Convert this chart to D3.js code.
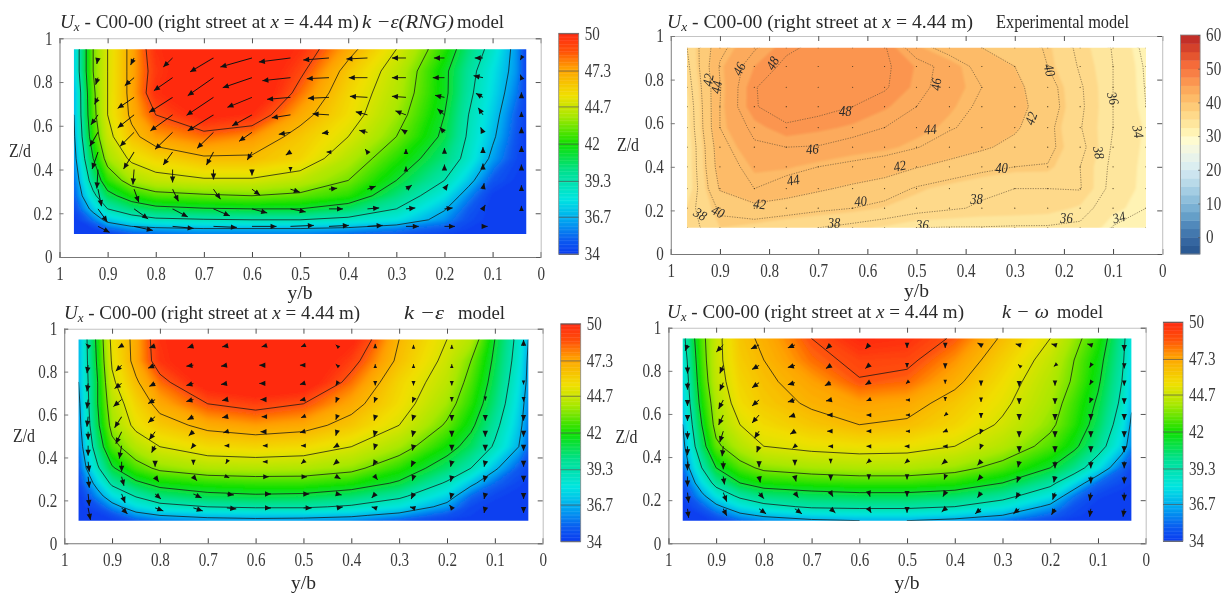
<!DOCTYPE html>
<html>
<head>
<meta charset="utf-8">
<script src="https://d3js.org/d3.v7.min.js"></script>
<style>
  html, body { margin: 0; padding: 0; background: #fff; }
  text { font-family: "Liberation Serif", serif; fill: #2a2a2a; }
  .tick text { font-size: 18px; fill: #3a3a3a; }
</style>
</head>
<body>
<script>
// axis ticks
var xTicks = [1, 0.9, 0.8, 0.7, 0.6, 0.5, 0.4, 0.3, 0.2, 0.1, 0];
var zTicks = [0, 0.2, 0.4, 0.6, 0.8, 1];

// colorbars
var jetTicks = [50, 47.3, 44.7, 42, 39.3, 36.7, 34];
var jetLevels = [34, 35, 36.5, 38, 40, 42, 44, 45.5, 47.5, 48.7, 50];
var jetColors = ['#0a3cf0', '#0a5af0', '#00a8f0', '#00e5e0', '#00e090', '#10e000', '#a8e800', '#f0e000', '#ffa000', '#ff5208', '#ff2a10'];
// the painted field runs about a unit warm of the contour lines
var fieldLevels = [34, 34.8, 35.8, 37, 38.7, 40.7, 42.7, 44.6, 46.8, 47.9, 49.2];
var contourLevels = [36, 38, 40, 42, 44, 46, 48];
var expTicks = [60, 50, 40, 30, 20, 10, 0];
var expBandEdges = [34.5, 37, 39.5, 42, 44.5, 47];
var expBands = ['#2b5a94', '#3566a0', '#4378ae', '#5189bb', '#659fc8', '#7ab0d3', '#8fbfdb', '#a4cde3', '#b9dae9', '#cce4ef',
  '#dbeef0', '#e8f3ea', '#f4f7e0', '#fefbd0', '#fff3b4', '#fee69d', '#fed98a', '#fdcb78', '#fdbb68', '#fcaa5c',
  '#fb9550', '#f87f45', '#f56b3a', '#e5552f', '#d4412b', '#c22f28'];

// field sample positions of the three simulations
var simYb = [0.97, 0.93, 0.9, 0.85, 0.8, 0.7, 0.6, 0.5, 0.4, 0.3, 0.2, 0.15, 0.1, 0.05, 0.03];
var simZ = [0.95, 0.85, 0.75, 0.65, 0.55, 0.45, 0.35, 0.28, 0.22, 0.17, 0.13, 0.105];

var rngField = [
  [36.5, 42, 44, 46.5, 49, 50.5, 50.5, 49, 46.5, 44, 41, 39, 37.5, 35.5, 34.3],
  [36.5, 42, 44, 46.5, 48.7, 50.5, 50.5, 48.3, 45.5, 43.3, 40.3, 38.5, 37, 35.5, 34.3],
  [36, 41.7, 44, 46.5, 49, 50.5, 50.5, 47.5, 45, 43, 40.3, 38.3, 36.8, 35.2, 34.3],
  [36, 41.5, 44, 46.3, 48, 49.5, 49, 46.5, 44.7, 42.6, 40, 38, 36.5, 34.8, 34.2],
  [35.8, 41, 43.5, 45.6, 46.8, 47.5, 47, 45.5, 44, 42, 39.7, 37.8, 36.2, 34.6, 34],
  [35.5, 40, 42.6, 44.3, 45, 45.8, 45.8, 45, 43, 41, 39, 37.5, 35.7, 34.4, 34],
  [35, 38.8, 41, 42.7, 43.4, 43.8, 43.8, 43.2, 42, 40, 38, 36.4, 34.7, 34.1, 34],
  [34.8, 37.6, 39.5, 40.8, 41.5, 41.8, 42, 41.7, 41, 39, 37, 35.4, 34.1, 34, 34],
  [34.4, 36.4, 38, 39, 39.6, 39.9, 40, 40, 39.3, 38, 36.1, 34.8, 34, 34, 34],
  [34, 35.2, 36.4, 37.2, 37.7, 37.9, 38, 38, 37.6, 37, 35.5, 34.5, 34, 34, 34],
  [34, 34.2, 35, 35.6, 35.8, 36, 36, 36, 35.8, 35.3, 34.7, 34.2, 34, 34, 34],
  [34, 34, 34.2, 34.8, 35, 35.3, 35.3, 35.3, 35, 34.8, 34.3, 34, 34, 34, 34]
];
var keField = [
  [36, 40.5, 44.5, 46.5, 49, 50.5, 51, 51, 49.5, 46, 44, 43, 40, 37.5, 36],
  [36, 40.3, 44.2, 46.5, 48.8, 50.5, 51, 50.5, 48.5, 45.7, 43.6, 42, 39.7, 37.3, 35.8],
  [36, 40, 43.7, 45.8, 47.5, 49.8, 50.5, 50, 47.5, 45, 43.2, 41.5, 39.4, 37, 35.7],
  [35.7, 40, 43, 45, 46.5, 48, 48.5, 48, 46.5, 44.7, 42.6, 41, 39, 36.7, 35.4],
  [35.5, 39.7, 42.5, 44.4, 45.4, 46.4, 46.8, 46.5, 45.5, 44, 41.8, 40.3, 38.4, 36.4, 35.2],
  [35.2, 39, 41.5, 43, 44, 44.8, 45, 44.8, 44, 42.7, 40.6, 39.4, 37.8, 36, 35],
  [34.8, 37.8, 39.8, 41.4, 42.3, 42.9, 43, 42.9, 42.4, 41, 39.2, 38, 36.2, 34.8, 34.3],
  [34.4, 36.5, 38.3, 39.7, 40.5, 41, 41.2, 41.2, 40.8, 39.8, 37.8, 36.3, 35, 34.3, 34.1],
  [34, 35.5, 36.8, 38.1, 39, 39.6, 39.8, 39.7, 39.2, 38.3, 36.6, 35, 34.3, 34, 34],
  [34, 34.6, 35.5, 36.8, 37.5, 38, 38.2, 38.2, 37.8, 37, 35.6, 34.4, 34, 34, 34],
  [34, 34, 34.5, 35.5, 36, 36.3, 36.4, 36.4, 36.2, 35.6, 34.6, 34.2, 34, 34, 34],
  [34, 34, 34.1, 34.8, 35.2, 35.6, 35.7, 35.6, 35.4, 34.8, 34.2, 34, 34, 34, 34]
];
var kwField = [
  [37.5, 41.5, 43.5, 45.5, 46.3, 48, 49.3, 49, 47.8, 45.8, 44, 42.5, 41, 38.5, 37],
  [37, 41.3, 43.5, 45.3, 46, 47.5, 48.4, 48.3, 47, 45.2, 43.4, 42, 40.5, 38.3, 36.8],
  [36.7, 41, 43.3, 45, 45.7, 46.7, 47.9, 47.6, 46.3, 44.7, 43, 41.8, 40.2, 38, 36.5],
  [36.4, 40.6, 42.8, 44.7, 45.4, 46.2, 46.7, 46.5, 45.5, 44.3, 42.7, 41.3, 39.8, 37.7, 36.2],
  [36, 40, 42.5, 44, 44.8, 45.5, 46, 45.8, 45, 43.8, 42.3, 41, 39.4, 37.2, 35.8],
  [35.6, 39.3, 41.7, 43, 44, 44.4, 44.6, 44.5, 44, 43, 41.5, 40.3, 38.7, 36.6, 35.4],
  [35, 38, 40, 41.5, 42.3, 42.7, 42.9, 42.9, 42.5, 41.5, 40, 38.8, 37, 35, 34.4],
  [34.5, 36.8, 38.5, 40, 40.7, 41, 41.2, 41.2, 40.9, 40, 38.4, 36.8, 35, 34.4, 34.2],
  [34.2, 35.7, 37, 38.3, 39, 39.4, 39.6, 39.6, 39.3, 38.5, 37, 35.2, 34.3, 34, 34],
  [34, 34.8, 35.7, 36.9, 37.6, 38.2, 38.3, 38.3, 38, 37.2, 35.7, 34.6, 34, 34, 34],
  [34, 34.2, 34.8, 35.7, 36.2, 36.7, 36.9, 36.9, 36.6, 36, 34.9, 34.3, 34, 34, 34],
  [34, 34, 34.3, 35, 35.4, 35.8, 36, 36, 35.7, 35.2, 34.4, 34, 34, 34, 34]
];

// experimental measurement grid
var expYb = [0.967, 0.9, 0.83, 0.765, 0.7, 0.63, 0.565, 0.5, 0.433, 0.367, 0.3, 0.233, 0.167, 0.1, 0.033];
var expZ = [0.946, 0.86, 0.765, 0.676, 0.58, 0.49, 0.4, 0.3, 0.21, 0.12];
var expField = [
  [38, 43.5, 45.8, 47.7, 48.4, 48.6, 48.2, 44.8, 43.2, 42, 41, 39.8, 37.5, 35.9, 33.5],
  [37.5, 44.2, 47, 48.4, 49, 49, 48.3, 46.9, 45.2, 43.3, 42, 40, 37.8, 36, 33.8],
  [37, 43.9, 47.9, 49, 49.3, 49.2, 48.2, 46.7, 45, 44, 42.5, 40.8, 38.2, 36, 33.9],
  [36.5, 44, 47.9, 48.7, 48.6, 48, 47.2, 46, 44.7, 43.7, 42.7, 41, 38.3, 36, 34],
  [36.3, 44, 46.5, 47.8, 47.3, 46.8, 46, 45, 44.2, 43.3, 42.3, 40.5, 38.1, 36, 34.3],
  [36, 43.3, 45.7, 46, 45.9, 45.2, 44.8, 44.1, 43, 42.3, 41.4, 40.5, 38.5, 35.8, 34.2],
  [36, 43, 44.7, 44.7, 44, 43.5, 43, 42.1, 41.4, 40.6, 40, 39.9, 38, 35.6, 34.1],
  [36, 42.2, 44, 43, 42.3, 41.6, 41, 39.8, 39, 38.3, 38, 38, 38.1, 35.4, 34.1],
  [37.2, 40.3, 41.3, 41, 40.4, 40, 39.4, 38.7, 38.2, 37.8, 37.7, 37.5, 36.8, 34.8, 34],
  [37, 39.5, 39, 38.3, 38, 37.4, 36.8, 36, 35.9, 35.9, 35.8, 35.8, 35.6, 33.9, 33.6]
];
// contour labels: value, y/b, Z/d, angle
var expLabels = [
  [48, 0.793, 0.875, -60], [48, 0.645, 0.653, 0],
  [46, 0.861, 0.849, -65], [46, 0.46, 0.778, -85], [46, 0.712, 0.482, -5],
  [44, 0.907, 0.765, -80], [44, 0.472, 0.572, -5], [44, 0.751, 0.339, -10],
  [42, 0.924, 0.798, -80], [42, 0.267, 0.622, -70], [42, 0.534, 0.404, -10], [42, 0.819, 0.229, 5],
  [40, 0.229, 0.844, 75], [40, 0.327, 0.393, 0], [40, 0.614, 0.243, -5], [40, 0.904, 0.194, 25],
  [38, 0.94, 0.183, 30], [38, 0.668, 0.141, 0], [38, 0.378, 0.252, 0], [38, 0.129, 0.465, 80],
  [36, 0.488, 0.133, 0], [36, 0.195, 0.164, 0], [36, 0.1, 0.714, 75],
  [34, 0.049, 0.561, 80], [34, 0.088, 0.168, -15]
];

// in-plane velocity, one row per arrow row: u to the right, w upward
var rngArrowYb = [0.92, 0.845, 0.765, 0.68, 0.6, 0.52, 0.44, 0.36, 0.28, 0.2, 0.12, 0.04];
var rngArrowZ = [0.91, 0.82, 0.73, 0.65, 0.57, 0.48, 0.4, 0.31, 0.22, 0.14];
var rngU = [
  [-1, -3, -8, -20, -27, -27, -22, -18, -12, -9, -7, -1],
  [-2, -8, -16, -22, -25, -24, -19, -16, -12, -10, -8, -1],
  [-3, -14, -20, -23, -21, -20, -18, -15, -12, -8, -6, 0],
  [-6, -14, -19, -22, -17, -16, -14, -10, -9, -6, -4, 0],
  [-7, -12, -15, -14, -11, -10, -6, -7, -4, -4, -2, 0],
  [-5, -9, -8, -6, -4, -4, -2, -2, 0, 0, 0, 0],
  [-1, -1, 0, 0, 0, 0, 0, 0, 0, 0, 0, 0],
  [3, 4, 5, 6, 7, 8, 7, 7, 5, 3, 1, 0],
  [8, 12, 13, 14, 13, 13, 12, 10, 8, 7, 2, 0],
  [10, 16, 18, 20, 21, 20, 17, 13, 11, 9, 4, 0]
];
var rngW = [
  [-6, -7, -9, -14, -9, -4, -2, -1, 0, 0, 0, -2],
  [-7, -8, -13, -18, -10, -3, -1, 0, 0, 0, 2, 3],
  [-7, -11, -15, -18, -10, -2, -1, 1, 1, 2, 4, 5],
  [-10, -13, -16, -16, -11, -3, 1, 3, 4, 6, 7, 3],
  [-14, -14, -17, -16, -9, -2, -1, 2, 3, 5, 5, 5],
  [-17, -17, -13, -13, -8, -3, 0, 3, 3, 4, 5, 6],
  [-19, -15, -13, -10, -6, -2, 0, 0, 3, 5, 6, 5],
  [-17, -13, -12, -10, -6, -3, 1, 3, 4, 5, 6, 4],
  [-13, -10, -8, -7, -4, -3, 0, 1, 1, 1, 4, 3],
  [-6, -4, -2, -1, 0, 1, 1, 1, 0, 0, 0, 0]
];
var keArrowYb = [0.95, 0.88, 0.81, 0.73, 0.66, 0.58, 0.5, 0.43, 0.35, 0.27, 0.19, 0.12, 0.04];
var keArrowZ = [0.92, 0.83, 0.745, 0.67, 0.59, 0.52, 0.455, 0.38, 0.31, 0.23, 0.165];
var keU = [
  [-2, -3, -5, -5, -4, -3, -2, -1, 0, 0, 0, 0, 0],
  [-1, -5, -6, -6, -5, -5, -3, -1, 0, 0, 0, 0, 0],
  [-1, -6, -5, -6, -5, -5, -3, -1, 0, 0, 0, 0, 0],
  [-1, -7, -6, -6, -4, -4, -3, -1, -1, -1, 0, 0, 0],
  [-1, -6, -6, -5, -4, -3, -2, -1, -1, -1, 0, 0, 0],
  [0, -5, -5, -4, -3, -4, -3, -1, -1, -1, 0, 0, 0],
  [0, -2, -3, -2, -2, -2, -2, -3, -1, -1, 0, 0, 0],
  [1, 0, 0, 0, -1, -2, -2, -3, -2, -2, -1, -1, 0],
  [1, 2, 3, 3, 2, 3, 3, 3, 2, -1, -1, -1, 0],
  [1, 3, 5, 7, 6, 5, 5, 4, -3, -2, -1, -1, 0],
  [2, 5, 7, 8, 8, 5, 7, 5, -3, -3, -2, -1, 0]
];
var keW = [
  [2, -2, -2, -2, -1, -1, -1, 1, 2, 1, 1, 0, 6],
  [-8, -6, -3, -1, -1, 0, 0, 1, 1, 1, 1, 0, 0],
  [-8, -5, -3, -2, -1, 0, -1, -2, -2, -2, -2, 0, -1],
  [-9, -7, -4, -2, -1, 0, -1, -3, -3, -3, -2, -1, -2],
  [-10, -11, -6, -3, -1, 0, -1, -3, -4, -4, -4, -4, -4],
  [-8, -12, -8, -4, -1, 0, -1, -4, -5, -5, -5, -5, -5],
  [-10, -13, -7, -3, 0, 0, 0, -2, -4, -5, -5, -5, -5],
  [-10, -10, -5, -3, -2, 0, -2, -3, -4, -5, -5, -5, -5],
  [-11, -9, -5, -4, -1, 0, 0, -2, -3, -4, -5, -5, -5],
  [-12, -9, -5, -4, -1, 0, 0, -1, -4, -5, -5, -5, -5],
  [-12, -6, -3, -3, -1, 0, 0, 1, 1, 1, 3, -5, -5]
];
var kwArrowYb = [0.96, 0.885, 0.81, 0.735, 0.66, 0.58, 0.5, 0.42, 0.345, 0.265, 0.19, 0.115, 0.045];
var kwArrowZ = [0.92, 0.825, 0.745, 0.665, 0.595, 0.52, 0.45, 0.38, 0.31, 0.235, 0.16];
var kwU = [
  [-2, -6, -7, -6, -4, -3, 0, 0, -3, -3, -3, -3, 0],
  [0, -3, -6, -6, -4, -3, 0, 0, 0, -1, -1, -1, 0],
  [0, -3, -6, -6, -5, -3, -1, 0, 0, 0, 0, -1, 0],
  [0, -4, -6, -6, -4, -2, -1, 0, 0, 0, 0, -1, 0],
  [0, -4, -6, -5, -3, -2, -1, -1, 0, 0, 0, 0, 0],
  [0, -3, -4, -4, -3, -2, -1, -2, -1, 0, 0, 0, 0],
  [0, -1, -2, -2, -2, -2, -2, -2, -1, 0, 0, 0, 0],
  [0, 0, 0, 0, 0, -2, -2, -3, -3, -1, 0, 0, 0],
  [0, 1, 1, 1, 0, 0, 0, -1, -3, -2, -1, 0, 0],
  [1, 3, 4, 3, 2, 1, 0, -2, -3, -3, -2, -1, 0],
  [1, 3, 6, 6, 4, 2, 0, -3, -5, -5, -3, -1, -1]
];
var kwW = [
  [-6, -7, -4, -3, -4, -4, -3, -3, 2, 1, 1, 1, -6],
  [-8, -8, -4, -2, -3, -3, -2, -3, 0, 1, -1, -2, -3],
  [-7, -8, -5, -2, -3, -2, -1, -1, -3, -4, -3, -2, -3],
  [-6, -9, -6, -2, -1, -1, 0, -1, -2, -4, -4, -3, -4],
  [-6, -10, -8, -2, 0, 0, 0, -1, -3, -5, -5, -5, -5],
  [-8, -11, -7, -3, 0, 0, 0, -1, -3, -6, -6, -6, -6],
  [-9, -10, -6, -2, 0, 0, 0, 0, -3, -6, -6, -6, -6],
  [-9, -8, -6, -4, -2, -2, -2, -3, -4, -6, -7, -7, -7],
  [-10, -8, -6, -5, -4, -3, -3, -3, -4, -6, -6, -7, -7],
  [-10, -9, -6, -5, -4, -4, -4, -4, -5, -6, -7, -8, -8],
  [-9, -7, -5, -5, -4, -4, -4, -3, -5, -5, -6, -8, -8]
];

var svg = d3.select('body').append('svg')
  .attr('width', 1228)
  .attr('height', 594)
  .style('display', 'block')
  .style('filter', 'blur(0.4px)');

var defs = svg.append('defs');
defs.append('filter').attr('id', 'soft')
  .attr('x', '-5%').attr('y', '-5%').attr('width', '110%').attr('height', '110%')
  .append('feGaussianBlur').attr('stdDeviation', 1.3);

var jetColor = d3.scaleLinear().domain(jetLevels).range(jetColors).clamp(true);
var fieldColor = d3.scaleLinear().domain(fieldLevels).range(jetColors).clamp(true);
var expColor = function(v) { return expBands[Math.floor((v + 5) / 2.5)]; };

// the picture is stretched upward, so narrow the tick labels around their anchor
function squeeze(axis) {
  axis.selectAll('.tick text').attr('transform', function() {
    var tx = +d3.select(this).attr('x') || 0;
    return 'translate(' + tx + ',0) scale(0.84,1) translate(' + (-tx) + ',0)';
  });
}

// d3.contours puts sample i at i + 0.5, so the field runs half a cell past the
// outer samples. The clip rect trims that overhang and the closing edges.
function contourPath(cols, rows, x, y) {
  var colAt = d3.scaleLinear().domain(cols.map(function(d, i) { return i + 0.5; })).range(cols);
  var rowAt = d3.scaleLinear().domain(rows.map(function(d, i) { return i + 0.5; })).range(rows);
  return d3.geoPath(d3.geoTransform({
    point: function(a, b) { this.stream.point(x(colAt(a)), y(rowAt(b))); }
  }));
}

function drawFrame(g, p, x, y) {
  g.append('g').attr('transform', 'translate(0,' + p.y0 + ')')
    .call(d3.axisBottom(x).tickValues(xTicks).tickSize(-5).tickPadding(10).tickFormat(String))
    .call(squeeze)
    .call(function(a) { a.select('.domain').attr('stroke', '#777'); a.selectAll('line').attr('stroke', '#444'); });
  g.append('g').attr('transform', 'translate(0,' + p.y1 + ')')
    .call(d3.axisTop(x).tickValues(xTicks).tickSize(-5).tickFormat(''))
    .call(function(a) { a.select('.domain').attr('stroke', '#c4c4c4'); a.selectAll('line').attr('stroke', '#555'); });
  g.append('g').attr('transform', 'translate(' + p.x0 + ',0)')
    .call(d3.axisLeft(y).tickValues(zTicks).tickSize(-4).tickPadding(7).tickFormat(String))
    .call(squeeze)
    .call(function(a) { a.select('.domain').attr('stroke', '#8a8a8a'); a.selectAll('line').attr('stroke', '#777'); });
  g.append('g').attr('transform', 'translate(' + p.x1 + ',0)')
    .call(d3.axisRight(y).tickValues(zTicks).tickSize(-5).tickFormat(''))
    .call(function(a) { a.select('.domain').attr('stroke', '#c4c4c4'); a.selectAll('line').attr('stroke', '#555'); });
  g.selectAll('.domain').attr('stroke-width', 1.1);

  g.append('text').attr('x', (p.x0 + p.x1) / 2).attr('y', p.xLabelY)
    .attr('text-anchor', 'middle').attr('textLength', 25).attr('lengthAdjust', 'spacingAndGlyphs')
    .style('font-size', '19px').text('y/b');
  g.append('text').attr('x', p.zLabelX).attr('y', p.zLabelY)
    .attr('text-anchor', 'middle').attr('dominant-baseline', 'central')
    .attr('textLength', 22).attr('lengthAdjust', 'spacingAndGlyphs')
    .style('font-size', '19px').text('Z/d');

  var title = g.append('text').attr('x', p.titleX).attr('y', p.titleY).style('font-size', '19px')
    .attr('textLength', p.titleW).attr('lengthAdjust', 'spacingAndGlyphs');
  title.append('tspan').style('font-style', 'italic').text('U');
  title.append('tspan').style('font-style', 'italic').style('font-size', '13px').attr('dy', 3).text('x');
  title.append('tspan').attr('dy', -3).text(' - C00-00 (right street at ');
  title.append('tspan').style('font-style', 'italic').text('x');
  title.append('tspan').text(' = 4.44 m)');

  p.model.forEach(function(m) {
    g.append('text').attr('x', m.x).attr('y', p.titleY)
      .attr('textLength', m.w).attr('lengthAdjust', 'spacingAndGlyphs')
      .style('font-size', m.size + 'px').style('font-style', m.italic ? 'italic' : 'normal').text(m.text);
  });
}

function drawBar(g, p, ticks, domain, bands) {
  var c = d3.scaleLinear().domain(domain).range([p.barY0, p.barY1]);
  g.selectAll('rect.band').data(bands).join('rect')
    .attr('class', 'band')
    .attr('x', p.barX).attr('width', p.barW)
    .attr('y', function(d) { return c(d.hi); })
    .attr('height', function(d) { return c(d.lo) - c(d.hi) + 0.4; })
    .attr('fill', function(d) { return d.color; });
  g.append('rect').attr('x', p.barX).attr('y', p.barY1).attr('width', p.barW).attr('height', p.barY0 - p.barY1)
    .attr('fill', 'none').attr('stroke', '#888').attr('stroke-width', 0.8);
  g.append('g').attr('transform', 'translate(' + (p.barX + p.barW) + ',0)')
    .call(d3.axisRight(c).tickValues(ticks).tickSize(-p.tickLen).tickPadding(6).tickFormat(String))
    .call(squeeze)
    .call(function(a) {
      a.select('.domain').remove();
      a.selectAll('line').attr('stroke', '#555').attr('stroke-width', 0.7);
    });
}

function drawArrows(g, p, x, y, cols, rows, u, w) {
  var arrows = [];
  rows.forEach(function(z, j) {
    cols.forEach(function(yb, i) {
      arrows.push({ x: x(yb), y: y(z), dx: u[j][i] * 1.17, dy: -w[j][i] });
    });
  });
  arrows = arrows.filter(function(d) { return d.dx || d.dy; });
  var arrow = g.selectAll('g.arrow').data(arrows).join('g').attr('class', 'arrow')
    .attr('transform', function(d) {
      return 'translate(' + (d.x + d.dx) + ',' + (d.y + d.dy) + ') rotate(' + Math.atan2(d.dy, d.dx) * 180 / Math.PI + ')';
    });
  arrow.append('line')
    .attr('x1', function(d) { return -Math.hypot(d.dx, d.dy); })
    .attr('stroke', '#111').attr('stroke-width', 0.9);
  arrow.append('path')
    .attr('d', function(d) {
      var s = Math.min(1, 0.55 + Math.hypot(d.dx, d.dy) / 10) * p.head;
      return 'M' + (-s) + ',' + (-s * 0.45) + 'L0,0L' + (-s) + ',' + (s * 0.45) + 'Z';
    })
    .attr('fill', '#111');
}

function drawSimulation(p, field, arrowCols, arrowRows, u, w) {
  var g = svg.append('g');
  var x = d3.scaleLinear().domain([1, 0]).range([p.x0, p.x1]);
  var y = d3.scaleLinear().domain([0, 1]).range([p.y0, p.y1]);
  var clipId = 'clip' + p.id;
  defs.append('clipPath').attr('id', clipId).append('rect')
    .attr('x', x(0.97)).attr('width', x(0.03) - x(0.97)).attr('y', y(p.zTop)).attr('height', y(p.zBottom) - y(p.zTop));

  var values = d3.merge(field);
  var path = contourPath(simYb, simZ, x, y);
  var contours = d3.contours().size([simYb.length, simZ.length]);

  var plot = g.append('g').attr('clip-path', 'url(#' + clipId + ')');
  plot.append('g').attr('filter', 'url(#soft)')
    .selectAll('path').data(contours.thresholds(d3.range(33, 52, 0.2))(values)).join('path')
    .attr('d', path)
    .attr('fill', function(d) { return fieldColor(d.value + 0.1); })
    .attr('stroke', function(d) { return fieldColor(d.value + 0.1); })
    .attr('stroke-width', 0.4);
  plot.append('g')
    .selectAll('path').data(contours.thresholds(contourLevels)(values)).join('path')
    .attr('d', path)
    .attr('fill', 'none').attr('stroke', '#151515').attr('stroke-width', 0.75);
  drawArrows(plot, p, x, y, arrowCols, arrowRows, u, w);

  drawFrame(g, p, x, y);
  var bands = d3.range(34, 50, 0.1).map(function(v) {
    return { lo: v, hi: v + 0.1, color: jetColor(v + 0.05) };
  });
  drawBar(g, p, jetTicks, [34, 50], bands);
}

function drawExperiment(p) {
  var g = svg.append('g');
  var x = d3.scaleLinear().domain([1, 0]).range([p.x0, p.x1]);
  var y = d3.scaleLinear().domain([0, 1]).range([p.y0, p.y1]);
  defs.append('clipPath').attr('id', 'clip' + p.id).append('rect')
    .attr('x', x(0.967)).attr('width', x(0.033) - x(0.967)).attr('y', y(p.zTop)).attr('height', y(p.zBottom) - y(p.zTop));

  var values = d3.merge(expField);
  var path = contourPath(expYb, expZ, x, y);
  var contours = d3.contours().size([expYb.length, expZ.length]);

  var plot = g.append('g').attr('clip-path', 'url(#clip' + p.id + ')');
  plot.append('g').attr('filter', 'url(#soft)')
    .selectAll('path').data(contours.thresholds([30].concat(expBandEdges))(values)).join('path')
    .attr('d', path)
    .attr('fill', function(d) { return expColor(d.value); });
  plot.append('g')
    .selectAll('path').data(contours.thresholds(d3.range(34, 50, 2))(values)).join('path')
    .attr('d', path)
    .attr('fill', 'none').attr('stroke', '#5a4a30').attr('stroke-width', 0.6)
    .attr('stroke-linecap', 'round').attr('stroke-dasharray', '0.5,2');

  // measuring points
  var points = d3.cross(expYb, expZ);
  plot.append('g').selectAll('circle').data(points).join('circle')
    .attr('cx', function(d) { return x(d[0]); })
    .attr('cy', function(d) { return y(d[1]); })
    .attr('r', 0.6).attr('fill', '#4a3a20');

  plot.append('g').selectAll('text').data(expLabels).join('text')
    .attr('transform', function(d) { return 'translate(' + x(d[1]) + ',' + y(d[2]) + ') rotate(' + d[3] + ') scale(0.9,1)'; })
    .attr('text-anchor', 'middle').attr('dominant-baseline', 'central')
    .style('font-size', '14px').style('font-style', 'italic')
    .text(function(d) { return d[0]; });

  drawFrame(g, p, x, y);
  var bands = expBands.map(function(color, i) {
    return { lo: -5 + i * 2.5, hi: -2.5 + i * 2.5, color: color };
  });
  drawBar(g, p, expTicks, [-5, 60], bands);
}

var rngPanel = {
  id: 'a', x0: 59.5, x1: 540.7, y0: 257, y1: 38.3, zTop: 0.95, zBottom: 0.105,
  barX: 558.7, barW: 20, barY0: 254, barY1: 33.3, tickLen: 20, head: 6,
  xLabelY: 299, zLabelX: 20, zLabelY: 150, titleX: 60, titleY: 28, titleW: 299,
  model: [{ x: 362, w: 92, size: 19, italic: true, text: 'k \u2212\u03b5(RNG)' }, { x: 457, w: 47, size: 19, text: 'model' }]
};
var expPanel = {
  id: 'b', x0: 670.8, x1: 1162.2, y0: 254, y1: 36, zTop: 0.946, zBottom: 0.12,
  barX: 1180.6, barW: 19.5, barY0: 254, barY1: 35, tickLen: 2,
  xLabelY: 297, zLabelX: 628, zLabelY: 144, titleX: 667, titleY: 28, titleW: 306,
  model: [{ x: 996, w: 133, size: 18, text: 'Experimental model' }]
};
var kePanel = {
  id: 'c', x0: 64.2, x1: 542.7, y0: 543.3, y1: 328.7, zTop: 0.95, zBottom: 0.105,
  barX: 560.7, barW: 20, barY0: 541.3, barY1: 323.7, tickLen: 20, head: 6,
  xLabelY: 589, zLabelX: 24, zLabelY: 435, titleX: 64, titleY: 319, titleW: 296,
  model: [{ x: 404, w: 40, size: 19, italic: true, text: 'k \u2212\u03b5' }, { x: 458, w: 47, size: 19, text: 'model' }]
};
var kwPanel = {
  id: 'd', x0: 668.4, x1: 1145.7, y0: 543.3, y1: 327.7, zTop: 0.95, zBottom: 0.105,
  barX: 1163.3, barW: 19.7, barY0: 541, barY1: 322, tickLen: 20, head: 6,
  xLabelY: 589, zLabelX: 626.5, zLabelY: 436, titleX: 667, titleY: 318, titleW: 297,
  model: [{ x: 1002, w: 47, size: 19, italic: true, text: 'k \u2212 \u03c9' }, { x: 1057, w: 46, size: 19, text: 'model' }]
};

drawSimulation(rngPanel, rngField, rngArrowYb, rngArrowZ, rngU, rngW);
drawExperiment(expPanel);
drawSimulation(kePanel, keField, keArrowYb, keArrowZ, keU, keW);
drawSimulation(kwPanel, kwField, kwArrowYb, kwArrowZ, kwU, kwW);
</script>
</body>
</html>
